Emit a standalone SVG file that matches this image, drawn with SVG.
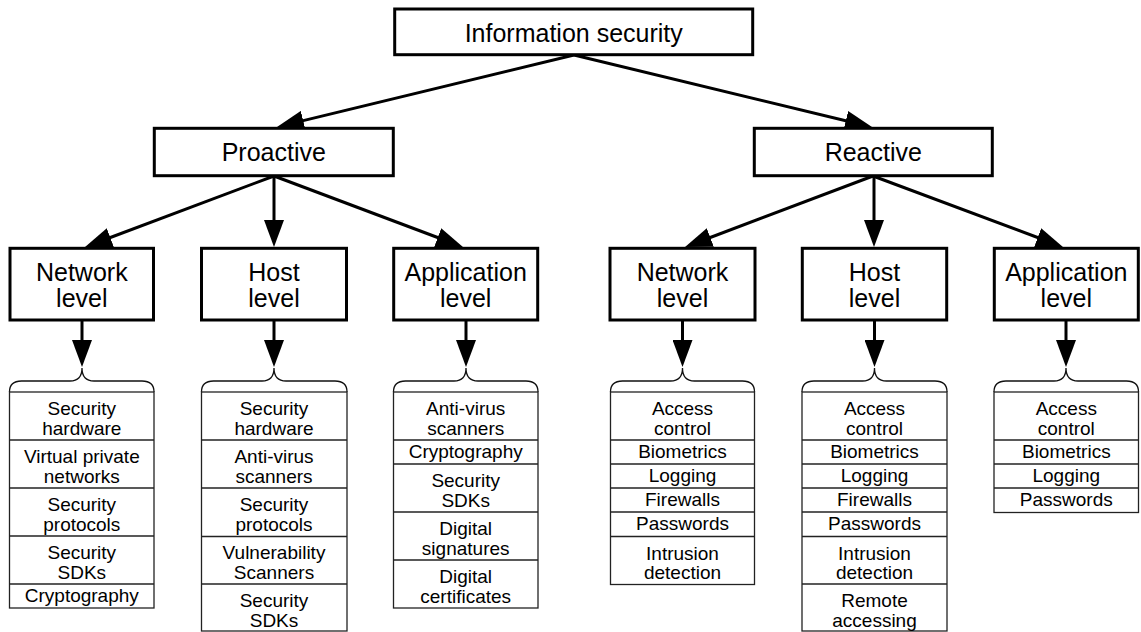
<svg xmlns="http://www.w3.org/2000/svg" width="1141" height="632" viewBox="0 0 1141 632">
<style>
.node{fill:#fff;stroke:#000;stroke-width:3}
.nt{font-family:"Liberation Sans",Arial,sans-serif;font-size:25px;fill:#000;text-anchor:middle}
.lt{font-family:"Liberation Sans",Arial,sans-serif;font-size:19px;fill:#000;text-anchor:middle}
.list{fill:#fff;stroke:#222;stroke-width:1.3}
.sep{stroke:#222;stroke-width:1.3}
.brace{fill:none;stroke:#111;stroke-width:1.3}
.edge{stroke:#000;stroke-width:3;fill:none;marker-end:url(#ah)}
</style>
<defs>
<marker id="ah" markerUnits="userSpaceOnUse" markerWidth="27" markerHeight="20" viewBox="0 0 27 20" refX="17" refY="10" orient="auto">
<path d="M0,0 L27,10 L0,20 z" fill="#000"/>
</marker>
</defs>
<rect width="1141" height="632" fill="#fff"/>

<g id="connectors">
<line class="edge" x1="574" y1="55" x2="286.7" y2="124.6"/>
<line class="edge" x1="574" y1="55" x2="862.3" y2="124.7"/>
<line class="edge" x1="274" y1="176" x2="94.4" y2="243.5"/>
<line class="edge" x1="274" y1="176" x2="274" y2="237"/>
<line class="edge" x1="274" y1="176" x2="453.6" y2="243.5"/>
<line class="edge" x1="873" y1="176" x2="694.4" y2="243.5"/>
<line class="edge" x1="874" y1="176" x2="874" y2="237"/>
<line class="edge" x1="873" y1="176" x2="1053.6" y2="243.5"/>
<line class="edge" x1="82" y1="320" x2="82" y2="357"/>
<line class="edge" x1="274" y1="320" x2="274" y2="357"/>
<line class="edge" x1="466" y1="320" x2="466" y2="357"/>
<line class="edge" x1="682.5" y1="320" x2="682.5" y2="357"/>
<line class="edge" x1="874.5" y1="320" x2="874.5" y2="357"/>
<line class="edge" x1="1066" y1="320" x2="1066" y2="357"/>
</g>

<g id="info-security">
<rect class="node" x="394.7" y="9" width="358" height="45.7"/>
<text class="nt" x="573.7" y="41.7">Information security</text>
</g>

<g id="proactive">
<rect class="node" x="154.3" y="128.3" width="239" height="47.4"/>
<text class="nt" x="273.8" y="161">Proactive</text>
</g>
<g id="reactive">
<rect class="node" x="754.3" y="128.3" width="238" height="47.4"/>
<text class="nt" x="873.3" y="161">Reactive</text>
</g>

<g id="p-network">
<rect class="node" x="10" y="248.3" width="143.5" height="71.7"/>
<text class="nt" x="81.8" y="281">Network</text>
<text class="nt" x="81.8" y="307">level</text>
</g>
<g id="p-host">
<rect class="node" x="201.5" y="248.3" width="145" height="71.7"/>
<text class="nt" x="274" y="281">Host</text>
<text class="nt" x="274" y="307">level</text>
</g>
<g id="p-application">
<rect class="node" x="393.7" y="248.3" width="144" height="71.7"/>
<text class="nt" x="465.7" y="281">Application</text>
<text class="nt" x="465.7" y="307">level</text>
</g>
<g id="r-network">
<rect class="node" x="610" y="248.3" width="145" height="71.7"/>
<text class="nt" x="682.5" y="281">Network</text>
<text class="nt" x="682.5" y="307">level</text>
</g>
<g id="r-host">
<rect class="node" x="802.3" y="248.3" width="144.4" height="71.7"/>
<text class="nt" x="874.5" y="281">Host</text>
<text class="nt" x="874.5" y="307">level</text>
</g>
<g id="r-application">
<rect class="node" x="994.3" y="248.3" width="144" height="71.7"/>
<text class="nt" x="1066.3" y="281">Application</text>
<text class="nt" x="1066.3" y="307">level</text>
</g>

<g id="p-network-list">
<path class="brace" d="M9.5,392 Q9.5,381 21.5,381 L70,381 Q82,381 82,368 Q82,381 94,381 L142,381 Q154,381 154,392"/>
<rect class="list" x="9.5" y="392" width="144.5" height="216"/>
<line class="sep" x1="9.5" y1="440" x2="154" y2="440"/>
<line class="sep" x1="9.5" y1="488" x2="154" y2="488"/>
<line class="sep" x1="9.5" y1="536" x2="154" y2="536"/>
<line class="sep" x1="9.5" y1="584" x2="154" y2="584"/>
<text class="lt" x="81.8" y="415">Security</text>
<text class="lt" x="81.8" y="434.5">hardware</text>
<text class="lt" x="81.8" y="463">Virtual private</text>
<text class="lt" x="81.8" y="482.5">networks</text>
<text class="lt" x="81.8" y="511">Security</text>
<text class="lt" x="81.8" y="530.5">protocols</text>
<text class="lt" x="81.8" y="559">Security</text>
<text class="lt" x="81.8" y="578.5">SDKs</text>
<text class="lt" x="81.8" y="602">Cryptography</text>
</g>

<g id="p-host-list">
<path class="brace" d="M201.5,392 Q201.5,381 213.5,381 L262,381 Q274,381 274,368 Q274,381 286,381 L335,381 Q347,381 347,392"/>
<rect class="list" x="201.5" y="392" width="145.5" height="239"/>
<line class="sep" x1="201.5" y1="440" x2="347" y2="440"/>
<line class="sep" x1="201.5" y1="488" x2="347" y2="488"/>
<line class="sep" x1="201.5" y1="536.5" x2="347" y2="536.5"/>
<line class="sep" x1="201.5" y1="584" x2="347" y2="584"/>
<text class="lt" x="274" y="415">Security</text>
<text class="lt" x="274" y="434.5">hardware</text>
<text class="lt" x="274" y="463">Anti-virus</text>
<text class="lt" x="274" y="482.5">scanners</text>
<text class="lt" x="274" y="511">Security</text>
<text class="lt" x="274" y="530.5">protocols</text>
<text class="lt" x="274" y="559">Vulnerability</text>
<text class="lt" x="274" y="578.5">Scanners</text>
<text class="lt" x="274" y="607">Security</text>
<text class="lt" x="274" y="626.5">SDKs</text>
</g>

<g id="p-application-list">
<path class="brace" d="M393.5,392 Q393.5,381 405.5,381 L454,381 Q466,381 466,368 Q466,381 478,381 L526,381 Q538,381 538,392"/>
<rect class="list" x="393.5" y="392" width="144.5" height="216"/>
<line class="sep" x1="393.5" y1="440" x2="538" y2="440"/>
<line class="sep" x1="393.5" y1="464" x2="538" y2="464"/>
<line class="sep" x1="393.5" y1="512" x2="538" y2="512"/>
<line class="sep" x1="393.5" y1="560" x2="538" y2="560"/>
<text class="lt" x="465.7" y="415">Anti-virus</text>
<text class="lt" x="465.7" y="434.5">scanners</text>
<text class="lt" x="465.7" y="458">Cryptography</text>
<text class="lt" x="465.7" y="487">Security</text>
<text class="lt" x="465.7" y="506.5">SDKs</text>
<text class="lt" x="465.7" y="535">Digital</text>
<text class="lt" x="465.7" y="554.5">signatures</text>
<text class="lt" x="465.7" y="583">Digital</text>
<text class="lt" x="465.7" y="602.5">certificates</text>
</g>

<g id="r-network-list">
<path class="brace" d="M610.5,392 Q610.5,381 622.5,381 L670.5,381 Q682.5,381 682.5,368 Q682.5,381 694.5,381 L742.5,381 Q754.5,381 754.5,392"/>
<rect class="list" x="610.5" y="392" width="144" height="192.5"/>
<line class="sep" x1="610.5" y1="440" x2="754.5" y2="440"/>
<line class="sep" x1="610.5" y1="464" x2="754.5" y2="464"/>
<line class="sep" x1="610.5" y1="488" x2="754.5" y2="488"/>
<line class="sep" x1="610.5" y1="512" x2="754.5" y2="512"/>
<line class="sep" x1="610.5" y1="536.5" x2="754.5" y2="536.5"/>
<text class="lt" x="682.5" y="415">Access</text>
<text class="lt" x="682.5" y="434.5">control</text>
<text class="lt" x="682.5" y="458">Biometrics</text>
<text class="lt" x="682.5" y="482">Logging</text>
<text class="lt" x="682.5" y="506">Firewalls</text>
<text class="lt" x="682.5" y="530">Passwords</text>
<text class="lt" x="682.5" y="559.5">Intrusion</text>
<text class="lt" x="682.5" y="579">detection</text>
</g>

<g id="r-host-list">
<path class="brace" d="M802,392 Q802,381 814,381 L862.5,381 Q874.5,381 874.5,368 Q874.5,381 886.5,381 L935,381 Q947,381 947,392"/>
<rect class="list" x="802" y="392" width="145" height="239"/>
<line class="sep" x1="802" y1="440" x2="947" y2="440"/>
<line class="sep" x1="802" y1="464" x2="947" y2="464"/>
<line class="sep" x1="802" y1="488" x2="947" y2="488"/>
<line class="sep" x1="802" y1="512" x2="947" y2="512"/>
<line class="sep" x1="802" y1="536.5" x2="947" y2="536.5"/>
<line class="sep" x1="802" y1="584" x2="947" y2="584"/>
<text class="lt" x="874.5" y="415">Access</text>
<text class="lt" x="874.5" y="434.5">control</text>
<text class="lt" x="874.5" y="458">Biometrics</text>
<text class="lt" x="874.5" y="482">Logging</text>
<text class="lt" x="874.5" y="506">Firewalls</text>
<text class="lt" x="874.5" y="530">Passwords</text>
<text class="lt" x="874.5" y="559.5">Intrusion</text>
<text class="lt" x="874.5" y="579">detection</text>
<text class="lt" x="874.5" y="607">Remote</text>
<text class="lt" x="874.5" y="626.5">accessing</text>
</g>

<g id="r-application-list">
<path class="brace" d="M994,392 Q994,381 1006,381 L1054,381 Q1066,381 1066,368 Q1066,381 1078,381 L1126.5,381 Q1138.5,381 1138.5,392"/>
<rect class="list" x="994" y="392" width="144.5" height="120.5"/>
<line class="sep" x1="994" y1="440" x2="1138.5" y2="440"/>
<line class="sep" x1="994" y1="464" x2="1138.5" y2="464"/>
<line class="sep" x1="994" y1="488" x2="1138.5" y2="488"/>
<text class="lt" x="1066.3" y="415">Access</text>
<text class="lt" x="1066.3" y="434.5">control</text>
<text class="lt" x="1066.3" y="458">Biometrics</text>
<text class="lt" x="1066.3" y="482">Logging</text>
<text class="lt" x="1066.3" y="506">Passwords</text>
</g>
</svg>
